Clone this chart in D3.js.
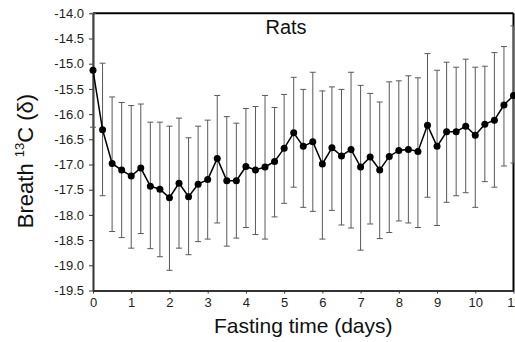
<!DOCTYPE html>
<html>
<head>
<meta charset="utf-8">
<script src="https://cdn.jsdelivr.net/npm/d3@7"></script>
<style>
  html, body { margin: 0; padding: 0; background: #fff; }
  svg { display: block; font-family: "Liberation Sans", Arial, sans-serif; }
</style>
</head>
<body>
<svg id="chart" width="515" height="342"></svg>
<script>
"use strict";

// Fasting time in days (sampled every 6 h)
const days = [0, 0.25, 0.5, 0.75, 1, 1.25, 1.5, 1.75, 2, 2.25, 2.5, 2.75,
  3, 3.25, 3.5, 3.75, 4, 4.25, 4.5, 4.75, 5, 5.25, 5.5, 5.75,
  6, 6.25, 6.5, 6.75, 7, 7.25, 7.5, 7.75, 8, 8.25, 8.5, 8.75,
  9, 9.25, 9.5, 9.75, 10, 10.25, 10.5, 10.75, 11];

// Mean breath 13C
const meanValues = [-15.13, -16.31, -16.98, -17.11, -17.23, -17.07, -17.43, -17.49, -17.66, -17.37, -17.64, -17.39,
  -17.30, -16.88, -17.32, -17.32, -17.04, -17.11, -17.05, -16.94, -16.68, -16.37, -16.64, -16.55,
  -16.99, -16.67, -16.83, -16.70, -17.05, -16.85, -17.11, -16.84, -16.72, -16.70, -16.74, -16.22,
  -16.64, -16.35, -16.35, -16.24, -16.42, -16.20, -16.12, -15.82, -15.63];

// Upper and lower ends of the error bars
const upperValues = [-14.00, -14.99, -15.66, -15.77, -15.83, -15.80, -16.16, -16.16, -16.24, -16.08, -16.47, -16.24,
  -16.12, -15.63, -16.05, -16.18, -15.89, -15.85, -15.63, -15.87, -15.61, -15.27, -15.51, -15.17,
  -15.54, -15.46, -15.51, -15.17, -15.43, -15.59, -15.76, -15.36, -15.34, -15.24, -15.28, -14.80,
  -15.13, -14.97, -15.07, -14.91, -15.07, -15.05, -14.78, -14.66, -14.25];

const lowerValues = [-16.26, -17.62, -18.33, -18.45, -18.66, -18.37, -18.67, -18.83, -19.10, -18.66, -18.79, -18.53,
  -18.48, -18.16, -18.62, -18.46, -18.25, -18.39, -18.48, -18.04, -17.77, -17.45, -17.85, -17.93,
  -18.48, -17.91, -18.20, -18.26, -18.70, -18.18, -18.47, -18.35, -18.12, -18.16, -18.25, -17.65,
  -18.21, -17.75, -17.62, -17.56, -17.85, -17.34, -17.45, -17.03, -16.97];

const xTicks = [0, 1, 2, 3, 4, 5, 6, 7, 8, 9, 10, 11];
const yTicks = [-14.0, -14.5, -15.0, -15.5, -16.0, -16.5, -17.0, -17.5, -18.0, -18.5, -19.0, -19.5];

const data = days.map((d, i) => ({
  day: d,
  mean: meanValues[i],
  upper: upperValues[i],
  lower: lowerValues[i]
}));

const svg = d3.select("#chart");

const x = d3.scaleLinear()
    .domain([0, 11])
    .range([93, 513.5]);

const y = d3.scaleLinear()
    .domain([-19.5, -14.0])
    .range([290.5, 13.3]);

// Axes
const xAxis = svg.append("g")
    .attr("transform", "translate(0," + y(-19.5) + ")")
    .call(d3.axisBottom(x).tickValues(xTicks).tickSize(3).tickSizeOuter(0).tickPadding(4));

const yAxis = svg.append("g")
    .attr("transform", "translate(" + x(0) + ",0)")
    .call(d3.axisLeft(y).tickValues(yTicks).tickSize(4).tickSizeOuter(0).tickPadding(5)
      .tickFormat(d => d.toFixed(1)));

[xAxis, yAxis].forEach(ax => {
  ax.select(".domain").attr("stroke", "#333").attr("stroke-width", 2);
  ax.selectAll(".tick line").attr("stroke", "#333");
  ax.selectAll(".tick text")
      .attr("fill", "#222")
      .style("font-size", "13px")
      .style("font-family", "'Liberation Sans', Arial, sans-serif");
});

// Top and right frame
svg.append("line")
    .attr("x1", x(0)).attr("x2", x(11))
    .attr("y1", y(-14)).attr("y2", y(-14))
    .attr("stroke", "#000").attr("stroke-width", 2);

svg.append("line")
    .attr("x1", x(11)).attr("x2", x(11))
    .attr("y1", y(-14)).attr("y2", y(-19.5))
    .attr("stroke", "#000").attr("stroke-width", 2);

// Error bars
const capHalf = 3;
const bars = svg.append("g")
    .attr("stroke", "#595959")
    .attr("stroke-width", 1)
  .selectAll("g")
    .data(data)
  .enter().append("g");

bars.append("line")
    .attr("x1", d => x(d.day)).attr("x2", d => x(d.day))
    .attr("y1", d => y(d.upper)).attr("y2", d => y(d.lower));

bars.append("line")
    .attr("x1", d => x(d.day) - capHalf).attr("x2", d => x(d.day) + capHalf)
    .attr("y1", d => y(d.upper)).attr("y2", d => y(d.upper));

bars.append("line")
    .attr("x1", d => x(d.day) - capHalf).attr("x2", d => x(d.day) + capHalf)
    .attr("y1", d => y(d.lower)).attr("y2", d => y(d.lower));

// Mean line and markers
const line = d3.line()
    .x(d => x(d.day))
    .y(d => y(d.mean));

svg.append("path")
    .datum(data)
    .attr("d", line)
    .attr("fill", "none")
    .attr("stroke", "#000")
    .attr("stroke-width", 1.5);

svg.append("g").selectAll("circle")
    .data(data)
  .enter().append("circle")
    .attr("cx", d => x(d.day))
    .attr("cy", d => y(d.mean))
    .attr("r", 3.5)
    .attr("fill", "#000");

// Title
svg.append("text")
    .attr("x", 286)
    .attr("y", 34)
    .attr("text-anchor", "middle")
    .style("font-size", "20px")
    .attr("fill", "#111")
    .text("Rats");

// X axis title
svg.append("text")
    .attr("x", (x(0) + x(11)) / 2)
    .attr("y", 333)
    .attr("text-anchor", "middle")
    .style("font-size", "21px")
    .attr("fill", "#111")
    .text("Fasting time (days)");

// Y axis title with superscript
const yLabel = svg.append("text")
    .attr("transform", "translate(33,161) rotate(-90)")
    .attr("text-anchor", "middle")
    .style("font-size", "22px")
    .attr("fill", "#111");

yLabel.append("tspan").text("Breath ");
yLabel.append("tspan")
    .attr("dy", -9)
    .style("font-size", "13px")
    .text("13");
yLabel.append("tspan")
    .attr("dy", 9)
    .text("C (δ)");
</script>
</body>
</html>
